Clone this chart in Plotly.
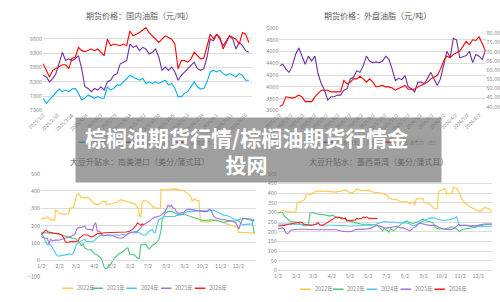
import plotly.graph_objects as go

W, H = 500, 302
FONT = "Noto Sans CJK SC, Noto Sans, sans-serif"
TICK_C = "#8a8a8a"
TITLE_C = "#595959"
GRID_C = "#dcdcdc"

# ---------------- top-left: domestic oils futures (yuan/ton), sampled trading days
tl_ticks = ["2025/1/2", "2025/2/10", "2025/3/18", "2025/4/24", "2025/6/3", "2025/7/9",
            "2025/8/14", "2025/9/22", "2025/10/30", "2025/12/5", "2026/1/13", "2026/2/24",
            "2026/4/1", "2026/5/11", "2026/6/16"]
tl_soy = [7724, 7552, 7667, 7782, 7896, 8046, 7954, 8011, 7954, 8046, 8068, 7896, 7667, 7724,
          7839, 7782, 7724, 7782, 7724, 7724, 8126, 8011, 8068, 8183, 8183, 8298, 8413, 8527,
          8470, 8413, 8355, 8413, 8241, 8298, 8241, 8298, 8241, 8298, 8355, 8183, 8241, 8068,
          7782, 7782, 7896, 7954, 8126, 8298, 8126, 8046, 8068, 8298, 8642, 8699, 8642, 8699,
          8585, 8527, 8585, 8527, 8470, 8585, 8527, 8355, 8355]
tl_palm = [8527, 8470, 8298, 8413, 8585, 8986, 9330, 9043, 9101, 9043, 9101, 9215, 8757, 8126,
           8068, 7954, 8068, 8011, 8126, 8011, 8298, 8355, 8527, 8585, 8929, 8986, 9043, 9617,
           9502, 9560, 9388, 9502, 9445, 9273, 9330, 9445, 9158, 8699, 8814, 8699, 8814, 8642,
           8355, 8527, 8642, 8757, 8871, 8986, 8757, 8699, 8757, 9158, 9789, 9732, 9961, 9789,
           9560, 9732, 9904, 9789, 9445, 9674, 9560, 9388, 9330]
tl_rape = [8929, 8699, 8470, 8699, 8757, 8814, 8894, 8894, 8757, 9124, 9158, 9502, 9388, 9353,
           9388, 9445, 9388, 9445, 9330, 9215, 9789, 9560, 9617, 9583, 9560, 9617, 9560, 10076,
           9904, 9961, 10018, 10110, 10190, 10018, 9904, 9789, 9674, 9789, 9904, 9846, 9789,
           9617, 8757, 9043, 9043, 8986, 9101, 9330, 9215, 9101, 9124, 9560, 9961, 9812, 9961,
           9846, 9445, 9674, 9904, 9846, 9789, 9617, 10018, 9961, 9674]
tl_names = ["豆油主力", "棕榈油主力", "菜油主力"]

# ---------------- top-right: overseas oils
tr_ticks = ["2025/1/2", "2025/2/2", "2025/3/2", "2025/4/2", "2025/5/2", "2025/6/2", "2025/7/2",
            "2025/8/2", "2025/9/2", "2025/10/2", "2025/11/2", "2025/12/2", "2026/1/2",
            "2026/2/2", "2026/3/2", "2026/4/2", "2026/5/2", "2026/6/2"]
tr_palm = [4355, 4382, 4300, 4245, 4355, 4548, 4658, 4520, 4382, 4520, 4438, 4520, 4217, 4052,
           3942, 3776, 3831, 3831, 3859, 3859, 3942, 3969, 4134, 4162, 4272, 4245, 4355, 4520,
           4438, 4410, 4421, 4410, 4438, 4520, 4465, 4300, 4107, 4145, 4123, 4190, 3997, 3969,
           3914, 4079, 4079, 4052, 4162, 4245, 4134, 4024, 4134, 4382, 4603, 4493, 4823, 4796,
           4493, 4509, 4531, 4603, 4410, 4548, 4520, 4465, 4630]
tr_soyoil = [40.1, 41.0, 45.4, 44.9, 44.7, 45.3, 46.3, 45.4, 42.8, 42.8, 42.8, 45.4, 47.2, 49.0,
             49.0, 49.0, 48.1, 48.1, 48.5, 48.1, 54.3, 52.5, 53.4, 55.2, 55.2, 56.6, 55.2, 53.4,
             55.2, 53.4, 50.8, 51.1, 51.6, 50.8, 50.8, 50.2, 49.0, 49.9, 50.8, 51.6, 49.5, 49.5,
             49.5, 50.8, 51.6, 52.5, 53.4, 55.2, 56.1, 57.0, 60.5, 64.9, 67.6, 66.7, 68.5, 69.4,
             70.3, 72.9, 75.6, 73.8, 76.5, 76.1, 78.2, 74.3, 70.3]
tr_names = ["马棕油主力（左）", "美豆油主力（右）"]

# ---------------- bottom: soybean basis (day of year, cents/bu)
month_days = [1, 32, 60, 91, 121, 152, 182, 213, 244, 274, 305, 335]
month_labels = ["1/2", "2/2", "3/2", "4/2", "5/2", "6/2", "7/2", "8/2", "9/2", "10/2", "11/2", "12/2"]
years = ["2022年", "2023年", "2024年", "2025年", "2026年"]

sa_2022 = [(1,235),(5,245),(8,240),(12,250),(15,238),(18,232),(24,232),(25,290),(28,285),(32,270),(40,265),(47,268),(50,300),(55,305),(58,330),(61,380),(65,383),(68,365),(72,360),(80,362),(85,350),(90,330),(95,320),(100,325),(105,342),(110,338),(112,318),(120,325),(125,330),(130,335),(135,350),(140,345),(145,340),(150,338),(155,330),(160,325),(163,310),(166,290),(168,255),(170,250),(172,335),(175,345),(180,342),(185,330),(190,310),(195,300),(200,302),(203,300),(204,410),(210,406),(215,410),(220,412),(225,410),(230,412),(235,405),(240,405),(245,395),(250,385),(254,370),(257,340),(260,355),(265,345),(268,345),(271,225),(275,222),(280,220),(285,223),(290,228),(295,232),(300,230),(305,222),(310,215),(315,210),(320,205),(325,200),(330,195),(334,190),(335,160),(340,162),(350,160),(358,158),(363,155)]
sa_2023 = [(1,160),(8,158),(15,155),(25,154),(36,146),(42,140),(47,132),(53,128),(58,127),(64,112),(69,84),(72,95),(75,70),(80,62),(86,60),(91,38),(96,30),(102,12),(105,-8),(107,-35),(110,-50),(113,-45),(116,-30),(118,-28),(124,8),(132,35),(140,50),(145,68),(148,72),(151,35),(159,32),(164,12),(167,10),(170,90),(178,92),(184,65),(189,85),(194,95),(200,115),(204,170),(206,235),(211,272),(216,282),(222,282),(227,275),(233,262),(243,266),(254,253),(265,240),(271,234),(276,228),(287,234),(293,232),(301,228),(309,218),(320,226),(331,228),(342,242),(352,240),(358,235),(362,155)]
sa_2024 = [(1,159),(6,131),(9,103),(12,90),(17,88),(20,75),(23,56),(26,37),(28,28),(31,24),(36,28),(42,30),(47,34),(50,37),(53,32),(55,37),(58,65),(61,94),(64,103),(69,112),(75,122),(77,109),(80,107),(86,107),(91,112),(96,131),(102,144),(107,146),(113,146),(118,140),(124,146),(129,146),(134,144),(140,150),(145,146),(151,159),(156,165),(162,168),(167,159),(173,146),(178,146),(184,168),(189,178),(192,159),(194,159),(197,206),(200,234),(205,243),(211,253),(216,253),(222,253),(227,253),(233,262),(238,262),(243,272),(249,281),(254,281),(260,285),(265,285),(271,287),(276,285),(282,287),(287,285),(293,290),(298,281),(304,272),(309,262),(315,258),(320,253),(325,243),(331,234),(336,225),(342,206),(347,206),(353,210),(358,210),(362,240)]
sa_2025 = [(1,140),(4,131),(9,127),(12,125),(14,94),(17,122),(20,112),(25,116),(31,116),(36,122),(42,127),(47,131),(53,140),(55,146),(58,146),(61,178),(64,187),(69,191),(75,197),(77,182),(80,178),(86,178),(88,168),(91,206),(93,215),(94,210),(96,168),(99,168),(102,159),(104,146),(107,140),(113,146),(118,146),(124,140),(129,131),(135,127),(140,131),(145,146),(151,159),(156,159),(162,159),(167,178),(170,187),(173,202),(175,206),(178,215),(184,225),(189,240),(194,249),(200,253),(205,262),(211,281),(213,300),(216,318),(219,309),(222,318),(224,300),(227,300),(230,281),(233,272),(238,272),(243,277),(246,290),(249,294),(254,294),(260,290),(265,290),(271,285),(276,281),(282,281),(284,290),(287,294),(290,281),(293,253),(298,243),(304,238),(309,234),(314,230),(320,228),(325,225),(331,215),(336,180),(339,215),(342,240),(347,240),(353,234),(358,230),(362,232)]
sa_2026 = [(1,146),(4,159),(6,168),(9,175),(12,165),(14,163),(20,159),(25,155),(31,153),(36,146),(39,131),(42,107),(45,103),(47,105),(53,109),(58,107),(64,112),(66,131),(69,135),(72,146),(75,146),(80,146),(86,135),(91,140),(96,154),(102,154),(107,159),(113,159),(118,159),(124,159),(129,159),(135,159),(140,160),(145,163),(151,168),(156,178),(162,202),(164,215),(167,210),(170,202),(172,210),(175,206)]

gm_2022 = [(1,295),(9,312),(14,305),(28,300),(31,300),(33,350),(39,358),(44,360),(49,390),(57,395),(63,405),(65,410),(76,410),(87,408),(98,405),(108,412),(114,415),(119,405),(125,400),(133,420),(141,412),(151,415),(159,405),(173,400),(178,396),(184,388),(186,372),(194,370),(200,365),(205,355),(216,355),(221,345),(227,355),(229,338),(232,370),(243,372),(245,352),(253,345),(259,330),(261,320),(267,318),(269,410),(275,420),(280,424),(283,395),(291,400),(294,430),(299,425),(304,400),(307,372),(312,348),(318,340),(323,325),(329,318),(334,310),(339,304),(345,325),(350,322),(355,315),(358,303)]
gm_2023 = [(1,298),(9,298),(12,281),(17,265),(22,253),(28,251),(33,248),(39,239),(44,231),(49,231),(52,239),(55,298),(60,298),(65,293),(76,290),(82,286),(87,281),(92,286),(98,276),(108,273),(114,265),(119,256),(125,251),(130,248),(135,243),(141,239),(151,239),(162,236),(167,234),(173,214),(176,206),(178,214),(184,206),(186,197),(189,214),(194,206),(200,222),(205,231),(210,248),(216,256),(221,248),(227,243),(232,248),(237,256),(243,265),(248,256),(253,253),(259,248),(264,222),(269,214),(280,214),(286,222),(291,226),(296,222),(302,206),(304,202),(307,209),(312,214),(323,219),(329,222),(339,231),(345,234),(350,239),(358,239)]
gm_2024 = [(1,240),(11,240),(22,240),(33,240),(44,238),(55,236),(65,236),(68,245),(70,236),(76,235),(87,235),(98,235),(108,232),(119,230),(130,230),(141,230),(151,232),(162,236),(173,250),(178,253),(184,250),(194,250),(205,245),(216,245),(221,240),(227,230),(232,238),(237,245),(243,255),(248,262),(253,270),(259,273),(264,270),(269,262),(275,258),(280,258),(286,262),(291,265),(296,270),(299,278),(302,245),(304,230),(312,233),(323,230),(334,230),(339,228),(345,226),(350,228),(358,228)]
gm_2025 = [(1,215),(6,220),(9,220),(12,212),(14,195),(17,190),(20,195),(22,208),(28,212),(33,213),(44,213),(55,210),(65,210),(76,210),(87,210),(98,210),(108,203),(114,200),(119,200),(125,203),(130,210),(135,212),(146,212),(151,215),(157,220),(162,228),(167,233),(173,227),(178,220),(184,220),(189,223),(194,223),(200,228),(205,220),(210,220),(216,212),(221,205),(227,220),(232,228),(237,245),(243,240),(248,237),(253,233),(259,233),(264,233),(269,223),(275,216),(280,212),(291,212),(296,220),(302,237),(307,233),(318,233),(323,228),(334,233),(339,237),(345,240),(358,240)]
gm_2026 = [(1,230),(6,230),(12,233),(17,237),(22,240),(28,242),(33,245),(39,250),(42,248),(44,240),(49,236),(55,233),(60,235),(65,240),(68,248),(71,235),(76,233),(82,245),(87,253),(92,262),(95,268),(98,276),(101,272),(103,276),(106,270),(108,266),(114,270),(116,255),(119,258),(125,258),(130,260),(133,270),(135,266),(141,270),(144,277),(146,272),(149,276),(151,272),(154,268),(157,270),(162,268),(167,268)]

TOP_COLORS = ["#00B0F0", "#7030A0", "#FF0000"]
YEAR_COLORS = ["#FFC845", "#4CC47A", "#45C8F8", "#A374D5", "#FF1F1F"]


def px(xp):
    return xp / W


def py(yp):
    return 1 - yp / H


fig = go.Figure()

# top-left traces
for vals, name, col in zip([tl_soy, tl_palm, tl_rape], tl_names, TOP_COLORS):
    fig.add_trace(go.Scatter(x=list(range(len(vals))), y=vals, mode="lines", name=name,
                             line=dict(color=col, width=1.1), xaxis="x", yaxis="y"))

# top-right traces
fig.add_trace(go.Scatter(x=list(range(len(tr_palm))), y=tr_palm, mode="lines", name=tr_names[0],
                         line=dict(color="#7030A0", width=1.1), xaxis="x2", yaxis="y2"))
fig.add_trace(go.Scatter(x=list(range(len(tr_soyoil))), y=tr_soyoil, mode="lines", name=tr_names[1],
                         line=dict(color="#FF0000", width=1.1), xaxis="x2", yaxis="y3"))

# bottom traces
for series, col, name in zip([sa_2022, sa_2023, sa_2024, sa_2025, sa_2026], YEAR_COLORS, years):
    fig.add_trace(go.Scatter(x=[d for d, v in series], y=[v for d, v in series], mode="lines",
                             name=name, line=dict(color=col, width=1.1), xaxis="x3", yaxis="y4"))
for series, col, name in zip([gm_2022, gm_2023, gm_2024, gm_2025, gm_2026], YEAR_COLORS, years):
    fig.add_trace(go.Scatter(x=[d for d, v in series], y=[v for d, v in series], mode="lines",
                             name=name, line=dict(color=col, width=1.1), xaxis="x4", yaxis="y5"))

tickfont = dict(family=FONT, size=5.5, color=TICK_C)
smallfont = dict(family=FONT, size=4.8, color=TICK_C)

fig.update_layout(
    width=W, height=H, margin=dict(l=0, r=0, t=0, b=0),
    paper_bgcolor="white", plot_bgcolor="white", showlegend=False,
    font=dict(family=FONT),
    xaxis=dict(domain=[px(27), px(243)], anchor="y", range=[0, 64.9], showgrid=False,
               zeroline=False, tickvals=[i * 4.5 for i in range(len(tl_ticks))],
               ticktext=tl_ticks, tickangle=-45, tickfont=smallfont, ticks=""),
    yaxis=dict(domain=[py(109.3), py(21.1)], anchor="x", range=[7300, 10300],
               tickvals=[7300, 7800, 8300, 8800, 9300, 9800], tickformat="d",
               gridcolor=GRID_C, gridwidth=0.6, zeroline=False, tickfont=tickfont, ticks=""),
    xaxis2=dict(domain=[px(271.7), px(485)], anchor="y2", range=[0, 64], showgrid=False,
                zeroline=False, tickvals=[i * 3.65 for i in range(len(tr_ticks))],
                ticktext=tr_ticks, tickangle=-45, tickfont=smallfont, ticks=""),
    yaxis2=dict(domain=[py(109.3), py(24.5)], anchor="x2", range=[3600, 5000], dtick=200,
                tickformat="d", gridcolor=GRID_C, gridwidth=0.6, zeroline=False,
                tickfont=tickfont, ticks=""),
    yaxis3=dict(overlaying="y2", side="right", anchor="x2", range=[38, 83], dtick=5,
                tickformat=".2f", showgrid=False, zeroline=False, tickfont=tickfont, ticks=""),
    xaxis3=dict(domain=[px(25), px(247)], anchor="free", position=py(263.3), range=[1, 364.3],
                showgrid=False, zeroline=False, showline=True, linecolor=GRID_C, linewidth=0.6,
                tickvals=month_days, ticktext=month_labels, tickfont=tickfont, ticks=""),
    yaxis4=dict(domain=[py(281), py(174.3)], anchor="x3", range=[-100, 500], dtick=100,
                gridcolor=GRID_C, gridwidth=0.6, zeroline=False, tickfont=tickfont, ticks=""),
    xaxis4=dict(domain=[px(270), px(492)], anchor="y5", range=[1, 358.5], showgrid=False,
                zeroline=False, showline=True, linecolor=GRID_C, linewidth=0.6,
                tickvals=month_days, ticktext=month_labels, tickfont=tickfont, ticks=""),
    yaxis5=dict(domain=[py(273.7), py(174.3)], anchor="x4", range=[0, 500], dtick=50,
                gridcolor=GRID_C, gridwidth=0.6, zeroline=False, tickfont=tickfont, ticks=""),
)

shapes = []
annotations = []

# subplot titles
for text, xc, yc in [("期货价格：国内油脂（元/吨）", 127, 12), ("期货价格：外盘油脂（元/吨）", 373, 12),
                     ("大豆升贴水：南美港口（美分/蒲式耳）", 127, 162),
                     ("大豆升贴水：墨西哥湾（美分/蒲式耳）", 374, 162)]:
    annotations.append(dict(text=text, x=px(xc), y=py(yc), xref="paper", yref="paper",
                            showarrow=False, xanchor="center", yanchor="middle",
                            font=dict(family=FONT, size=8, color=TITLE_C)))


def legend(items, y_px, fsize):
    for x0, col, label in items:
        shapes.append(dict(type="line", xref="paper", yref="paper", x0=px(x0), x1=px(x0 + 11),
                           y0=py(y_px), y1=py(y_px), line=dict(color=col, width=1.5)))
        annotations.append(dict(text=label, x=px(x0 + 13), y=py(y_px), xref="paper", yref="paper",
                                showarrow=False, xanchor="left", yanchor="middle",
                                font=dict(family=FONT, size=fsize, color=TICK_C)))


legend(list(zip([64, 112, 165], TOP_COLORS, tl_names)), 142, 5)
legend(list(zip([317, 380], ["#7030A0", "#FF0000"], tr_names)), 142, 5)
legend(list(zip([47, 78, 113, 149, 184], YEAR_COLORS, years)), 292, 5.5)
legend(list(zip([293, 327, 362, 397, 432], YEAR_COLORS, years)), 293, 5.5)

# translucent banner with headline (drawn last, on top)
annotations.append(dict(text=" ", x=px(249.5), y=py(150), xref="paper", yref="paper",
                        showarrow=False, xanchor="center", yanchor="middle", width=365, height=64,
                        borderpad=0, bgcolor="rgba(110,110,110,0.66)", font=dict(size=4)))
annotations.append(dict(text="<b>棕榈油期货行情/棕榈油期货行情金</b><br><b>投网</b>",
                        x=px(238), y=py(150), xref="paper", yref="paper", showarrow=False,
                        xanchor="center", yanchor="middle", align="center",
                        font=dict(family=FONT, size=21, color="white")))

fig.update_layout(shapes=shapes, annotations=annotations)
fig.write_html("out.html")
